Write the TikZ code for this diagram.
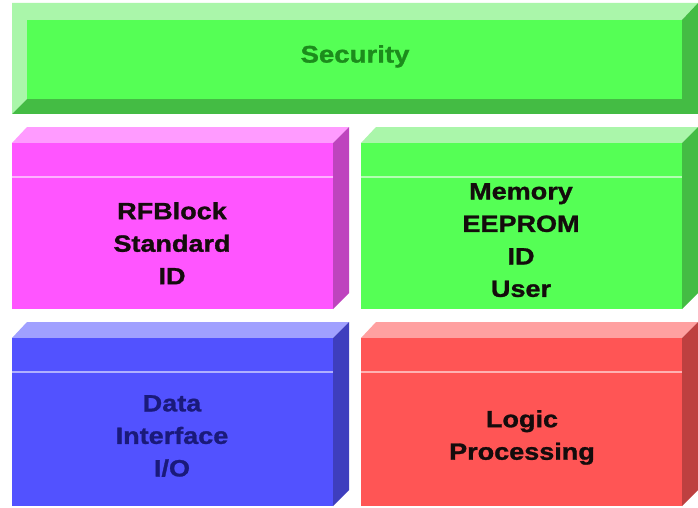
\documentclass[tikz,border=0pt]{standalone}
\usepackage{fontspec}
\newfontfamily\labelfont{Liberation Sans}[FakeStretch=1.15, BoldFeatures={FakeBold=1.2}]

% face colours: T = top (lit), F = front, S = side (shaded)
\definecolor{grnT}{RGB}{170,246,170}
\definecolor{grnF}{RGB}{85,255,85}
\definecolor{grnS}{RGB}{68,188,68}
\definecolor{magT}{RGB}{255,155,255}
\definecolor{magF}{RGB}{255,85,255}
\definecolor{magS}{RGB}{190,68,190}
\definecolor{bluT}{RGB}{160,160,255}
\definecolor{bluF}{RGB}{82,82,255}
\definecolor{bluS}{RGB}{62,62,190}
\definecolor{redT}{RGB}{255,160,160}
\definecolor{redF}{RGB}{255,85,85}
\definecolor{redS}{RGB}{190,64,64}
\definecolor{secText}{RGB}{28,140,28}
\definecolor{ioText}{RGB}{26,26,122}
\definecolor{inkText}{RGB}{20,12,12}

\tikzset{
  blocklabel/.style={font=\labelfont\bfseries\fontsize{23.5}{32.5}\selectfont,
    align=center, inner sep=0pt, anchor=north, text=inkText},
  sheen/.style={white, opacity=0.55, line width=1.2pt},
}

% a raised slab: front face from (#1,#2) to (#3,#4), top and right faces 16 deep
\newcommand\slab[5]{%
  \fill[#5T] (#1,#2) -- (#1+15,#2-16) -- (#3+16,#2-16) -- (#3,#2) -- cycle;
  \fill[#5F] (#1,#2) rectangle (#3,#4);
  \fill[#5S] (#3,#2) -- (#3+16,#2-16) -- (#3+16,#4-16) -- (#3,#4) -- cycle;
  \draw[sheen] (#1,#2+34) -- (#3,#2+34);
}

\begin{document}
\begin{tikzpicture}[x=1pt, y=-1pt]
  \useasboundingbox[fill=white] (0,0) rectangle (698,508);

  % bevelled security bar
  \fill[grnT] (12,3) -- (698,3) -- (682,20) -- (27,20) -- (27,99) -- (12,114) -- cycle;
  \fill[grnS] (12,114) -- (27,99) -- (682,99) -- (682,20) -- (698,3) -- (698,114) -- cycle;
  \fill[grnF] (27,20) rectangle (682,99);
  \node[blocklabel, font=\labelfont\bfseries\fontsize{24}{30}\selectfont, text=secText]
    (sec) at (355,45) {Security};

  % component slabs
  \slab{12}{143}{333}{309}{mag}
  \slab{361}{143}{682}{309}{grn}
  \slab{12}{338}{333}{506}{blu}
  \slab{361}{338}{682}{506}{red}

  \node[blocklabel] (rf) at (172,202) {RFBlock\\Standard\\ID};
  \node[blocklabel] (mem) at (521,183) {Memory\\EEPROM\\ID\\User};
  \node[blocklabel, text=ioText] (io) at (172,395) {Data\\Interface\\I/O};
  \node[blocklabel] (logic) at (522,410) {Logic\\Processing};
\end{tikzpicture}
\end{document}
